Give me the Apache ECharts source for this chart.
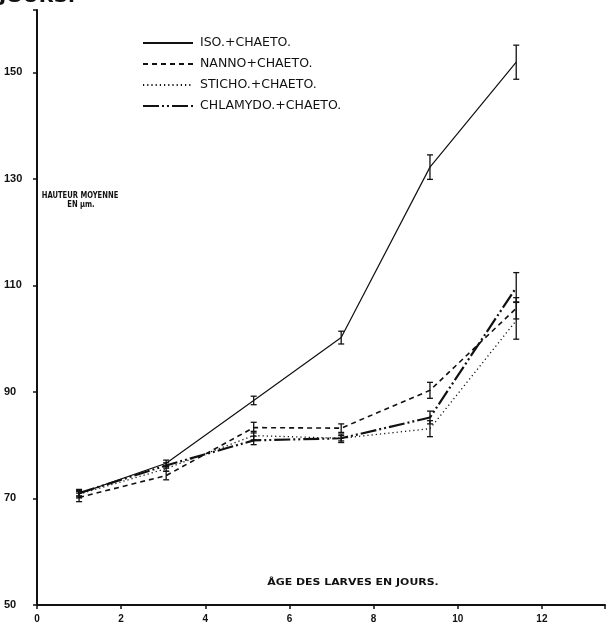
<!DOCTYPE html>
<html>
<head>
<meta charset="utf-8">
<script src="https://cdn.jsdelivr.net/npm/echarts@6/dist/echarts.min.js"></script>
<style>html,body{margin:0;padding:0;background:#fff;}#c{width:608px;height:628px;}</style>
</head>
<body>
<div id="c"></div>
<script>
// ---- data ----
// ages as placed on the drawing (points sit slightly right of the nominal day ticks)
const ages = [1.0, 3.07, 5.15, 7.23, 9.34, 11.39];
const seriesNames = ['ISO.+CHAETO.', 'NANNO+CHAETO.', 'STICHO.+CHAETO.', 'CHLAMYDO.+CHAETO.'];
const iso      = [70.9, 76.6, 88.4, 100.2, 132.2, 151.9];
const nanno    = [70.2, 74.3, 83.3, 83.2, 90.3, 105.7];
const sticho   = [70.8, 75.6, 81.8, 81.3, 83.1, 103.4];
const chlamydo = [71.0, 76.2, 80.9, 81.3, 85.2, 109.6];
const isoErr      = [0.8, 0.6, 0.8, 1.2, 2.3, 3.2];
const nannoErr    = [0.8, 0.8, 1.0, 0.8, 1.5, 2.0];
const stichoErr   = [0.5, 0.5, 0.8, 0.5, 1.5, 3.5];
const chlamydoErr = [0.5, 0.5, 0.8, 0.8, 1.2, 2.8];
const xTicks = [0, 2, 4, 6, 8, 10, 12];
const yTicks = [50, 70, 90, 110, 130, 150];

const values = [iso, nanno, sticho, chlamydo];
const errs = [isoErr, nannoErr, stichoErr, chlamydoErr];
const styles = [
  {width: 1.2, type: 'solid'},
  {width: 1.6, type: [5, 4]},
  {width: 1.3, type: [1.2, 3]},
  {width: 2.2, type: [16, 3, 2, 3, 2, 3]}
];

const lineSeries = values.map((v, i) => ({
  name: seriesNames[i],
  type: 'line',
  data: ages.map((d, k) => [d, v[k]]),
  symbol: 'none',
  lineStyle: {color: '#111', width: styles[i].width, type: styles[i].type},
  itemStyle: {color: '#111'},
  z: 3
}));

const errSeries = values.map((v, i) => ({
  type: 'custom',
  data: ages.map((d, k) => [d, v[k] - errs[i][k], v[k] + errs[i][k]]),
  encode: {x: 0, y: [1, 2]},
  renderItem: function (params, api) {
    const x = api.value(0);
    const lo = api.coord([x, api.value(1)]);
    const hi = api.coord([x, api.value(2)]);
    const st = {stroke: '#111', lineWidth: 1.3};
    return {type: 'group', children: [
      {type: 'line', shape: {x1: hi[0], y1: hi[1], x2: lo[0], y2: lo[1]}, style: st},
      {type: 'line', shape: {x1: hi[0] - 3, y1: hi[1], x2: hi[0] + 3, y2: hi[1]}, style: st},
      {type: 'line', shape: {x1: lo[0] - 3, y1: lo[1], x2: lo[0] + 3, y2: lo[1]}, style: st}
    ]};
  },
  silent: true,
  z: 4
}));

const chart = echarts.init(document.getElementById('c'), null, {renderer: 'canvas'});
chart.setOption({
  backgroundColor: '#fff',
  animation: false,
  grid: {left: 37, right: 0, top: 10, bottom: 23},
  legend: {
    data: seriesNames,
    orient: 'vertical',
    left: 142,
    top: 36,
    padding: 0,
    itemWidth: 50,
    itemHeight: 10,
    itemGap: 7,
    itemStyle: {opacity: 0},
    textStyle: {fontFamily: 'DejaVu Sans', fontSize: 12.5, color: '#111', lineHeight: 14, padding: [0, 0, 0, 2]}
  },
  xAxis: {
    type: 'value', min: 0, max: 13.5, interval: 2,
    axisLine: {lineStyle: {color: '#111', width: 2}},
    axisTick: {show: true, length: 4, lineStyle: {color: '#111', width: 1.5}},
    splitLine: {show: false},
    axisLabel: {
      color: '#111', fontFamily: 'Liberation Sans', fontWeight: 'bold', fontSize: 10, margin: 9,
      formatter: v => xTicks.indexOf(v) >= 0 ? String(v) : ''
    }
  },
  yAxis: {
    type: 'value', min: 50, max: 161.7, interval: 20,
    axisLine: {lineStyle: {color: '#111', width: 2}},
    axisTick: {show: true, length: 4, lineStyle: {color: '#111', width: 1.5}},
    splitLine: {show: false},
    axisLabel: {
      color: '#111', fontFamily: 'Liberation Sans', fontWeight: 'bold', fontSize: 11, margin: 33, align: 'left',
      formatter: v => yTicks.indexOf(v) >= 0 ? String(v) : ''
    }
  },
  graphic: [
    {type: 'text', left: -1, top: -9, style: {text: 'JOURS.', font: 'bold 15px DejaVu Sans', fill: '#111'}, scaleX: 1.3},
    {type: 'text', x: 80, y: 196, scaleX: 0.85, style: {text: 'HAUTEUR MOYENNE', font: 'bold 8px DejaVu Sans', fill: '#111', align: 'center', verticalAlign: 'middle'}},
    {type: 'text', x: 81, y: 205, scaleX: 0.85, style: {text: 'EN µm.', font: 'bold 8px DejaVu Sans', fill: '#111', align: 'center', verticalAlign: 'middle'}},
    {type: 'text', x: 353, y: 583, scaleX: 1.15, style: {text: 'ÂGE DES LARVES EN JOURS.', font: 'bold 9.5px DejaVu Sans', fill: '#111', align: 'center', verticalAlign: 'middle'}}
  ],
  series: lineSeries.concat(errSeries)
});
</script>
</body>
</html>
